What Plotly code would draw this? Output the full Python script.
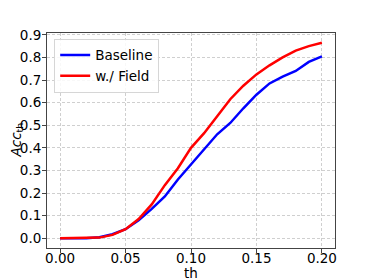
import plotly.graph_objects as go

th = [0.00, 0.01, 0.02, 0.03, 0.04, 0.05, 0.06, 0.07, 0.08, 0.09, 0.10,
      0.11, 0.12, 0.13, 0.14, 0.15, 0.16, 0.17, 0.18, 0.19, 0.20]
baseline = [0.0, 0.0, 0.0, 0.005, 0.018, 0.04, 0.08, 0.13, 0.185, 0.26, 0.325,
            0.395, 0.46, 0.51, 0.575, 0.635, 0.685, 0.715, 0.74, 0.78, 0.805]
field = [0.0, 0.0, 0.0, 0.003, 0.015, 0.04, 0.085, 0.15, 0.235, 0.31, 0.40,
         0.465, 0.54, 0.615, 0.675, 0.725, 0.765, 0.80, 0.83, 0.85, 0.865]
xticks = [0.00, 0.05, 0.10, 0.15, 0.20]
yticks = [0.0, 0.1, 0.2, 0.3, 0.4, 0.5, 0.6, 0.7, 0.8, 0.9]

fig = go.Figure()
fig.add_trace(go.Scatter(x=th, y=baseline, mode="lines", name="Baseline",
                         line=dict(color="#0000ff", width=2.5)))
fig.add_trace(go.Scatter(x=th, y=field, mode="lines", name="w./ Field",
                         line=dict(color="#ff0000", width=2.5)))

axis_common = dict(showline=True, linecolor="#444", linewidth=1, mirror=True,
                   ticks="outside", ticklen=4, tickcolor="#444",
                   showgrid=True, gridcolor="#cfcfcf", griddash="3px,2px", gridwidth=0.8,
                   zeroline=False, automargin=False,
                   tickfont=dict(size=13.5, color="black"))

# page is shown with an 8px body margin, so the figure is sized to fit inside it
fig.update_layout(
    width=366, height=272,
    margin=dict(l=39, r=39, t=25, b=32),
    paper_bgcolor="white", plot_bgcolor="white",
    font=dict(family="DejaVu Sans", color="black"),
    showlegend=True,
    legend=dict(x=0.025, y=0.973, xanchor="left", yanchor="top",
                bgcolor="rgba(255,255,255,0.85)", bordercolor="#d6d6d6", borderwidth=1,
                font=dict(size=13.5), itemwidth=30, tracegroupgap=0),
    xaxis=dict(range=[-0.01, 0.21], tickvals=xticks, ticklabelstandoff=-6,
               ticktext=[f"{v:.2f}" for v in xticks], **axis_common),
    yaxis=dict(range=[-0.043, 0.908], tickvals=yticks, ticklabelstandoff=-2,
               ticktext=[f"{v:.1f}" for v in yticks], **axis_common),
    annotations=[
        dict(text="th", xref="paper", yref="paper", x=0.5, y=0,
             xanchor="center", yanchor="middle", yshift=-25, showarrow=False,
             font=dict(size=13.5)),
        dict(text="<i>Acc</i><sub>th</sub>", xref="paper", yref="paper", x=0, y=0.5,
             xanchor="center", yanchor="middle", xshift=-31, textangle=-90,
             showarrow=False, font=dict(size=13.5)),
    ],
)

fig.write_html("out.html")
